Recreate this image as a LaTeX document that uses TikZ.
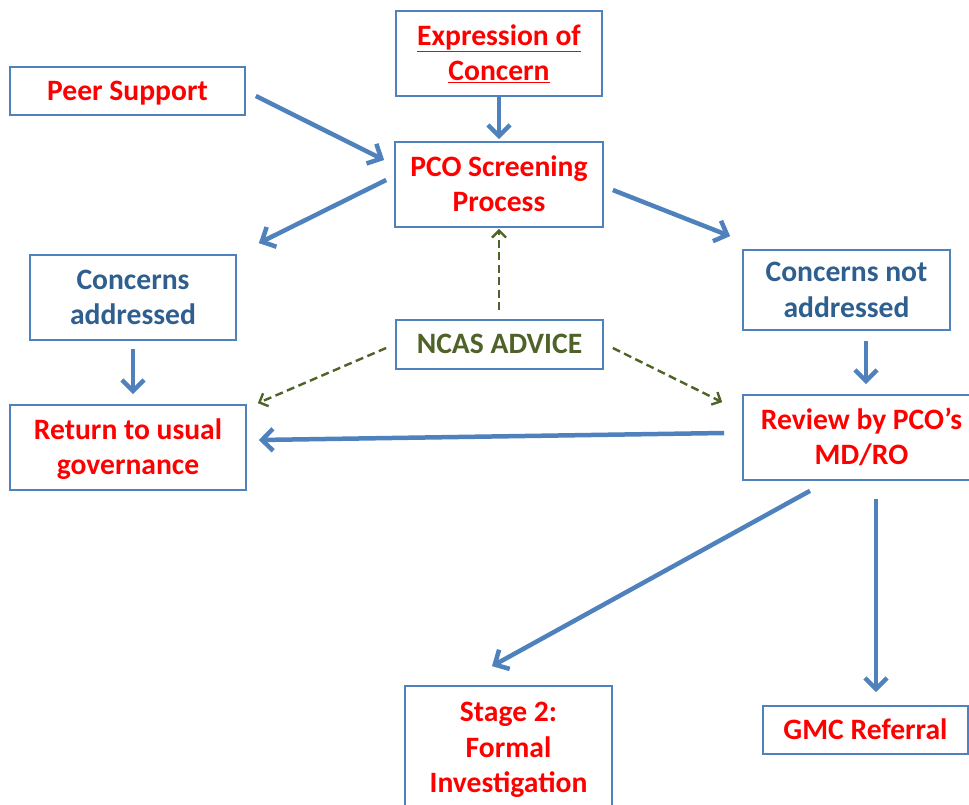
\documentclass[tikz,border=0pt]{standalone}
\usepackage{fontspec}
\setmainfont{Carlito}
\usetikzlibrary{arrows.meta,calc}
\definecolor{boxblue}{HTML}{4F81BD}
\definecolor{txtred}{HTML}{FF0000}
\definecolor{txtblue}{HTML}{2F5F8F}
\definecolor{txtgreen}{HTML}{4F6228}
\newcommand{\bs}{\vrule height25pt depth6.4pt width0pt\relax}
\tikzset{
  box/.style={draw=boxblue, line width=1.7pt, fill=white, inner sep=0pt, align=center,
    font=\fontsize{29.6}{35.5}\selectfont\bfseries},
  flow/.style={draw=boxblue, line width=4.5pt, -{Straight Barb[length=11pt,width=22pt]}},
  advice/.style={draw=txtgreen, line width=2.4pt, dash pattern=on 8pt off 4.5pt,
    -{Straight Barb[length=7pt,width=14pt]}}
}
\begin{document}
\begin{tikzpicture}[x=1pt,y=-1pt]
\useasboundingbox (0,0) rectangle (969,805);
\node[box, minimum width=206pt, minimum height=85pt, text=txtred] (expr) at (499,53.5)
  {\bs\underline{Expression of}\\\underline{Concern}\bs};
\node[box, minimum width=235pt, minimum height=48pt, text=txtred] (peer) at (127.5,91) {\bs Peer Support\bs};
\node[box, minimum width=208pt, minimum height=85pt, text=txtred] (pco) at (499,184.5) {\bs PCO Screening\\Process\bs};
\node[box, minimum width=206pt, minimum height=85pt, text=txtblue] (addr) at (133,297.5) {\bs Concerns\\addressed\bs};
\node[box, minimum width=207pt, minimum height=49pt, text=txtgreen] (ncas) at (499.5,344.5) {\bs NCAS ADVICE\bs};
\node[box, minimum width=207pt, minimum height=80pt, text=txtblue] (notaddr) at (846.5,290) {\bs Concerns not\\addressed\bs};
\node[box, minimum width=236pt, minimum height=85pt, text=txtred] (ret) at (128,447.5) {\bs Return to usual\\governance\bs};
\node[box, minimum width=237pt, minimum height=85pt, text=txtred] (review) at (861.5,437.5) {\bs Review by PCO’s\\MD/RO\bs};
\node[box, minimum width=207pt, minimum height=124pt, text=txtred] (stage) at (508.5,748) {\bs Stage 2:\\Formal\\Investigation\bs};
\node[box, minimum width=205pt, minimum height=48pt, text=txtred] (gmc) at (865.5,730) {\bs GMC Referral\bs};

\draw[flow] (expr.south) -- ($(pco.north)+(0,-2)$);
\draw[flow] ($(peer.east)+(10,5)$) -- ($(pco.west)+(-10,-24.5)$);
\draw[flow] ($(pco.west)+(-8,-4.5)$) -- ($(addr.north east)+(22,-11)$);
\draw[flow] ($(pco.east)+(9,5.5)$) -- ($(notaddr.north west)+(-12,-13)$);
\draw[flow] ($(addr.south)+(0,8)$) -- ($(ret.north)+(5,-10)$);
\draw[flow] ($(notaddr.south)+(19.5,10)$) -- ($(review.north)+(4.5,-10)$);
\draw[flow] ($(review.west)+(-18,-4.5)$) -- ($(ret.east)+(12,-7.5)$);
\draw[flow] ($(review.south)+(-51.5,10)$) -- ($(stage.north)+(-16.5,-19)$);
\draw[flow] ($(review.south)+(14.5,18)$) -- ($(gmc.north)+(10.5,-13)$);

\draw[advice] ($(ncas.north)+(-0.5,-9)$) -- ($(pco.south)+(0,1)$);
\draw[advice] ($(ncas.west)+(-9,3.5)$) -- ($(ret.north east)+(11,-1)$);
\draw[advice] ($(ncas.east)+(9,3.5)$) -- ($(review.north west)+(-20,8)$);
\end{tikzpicture}
\end{document}
